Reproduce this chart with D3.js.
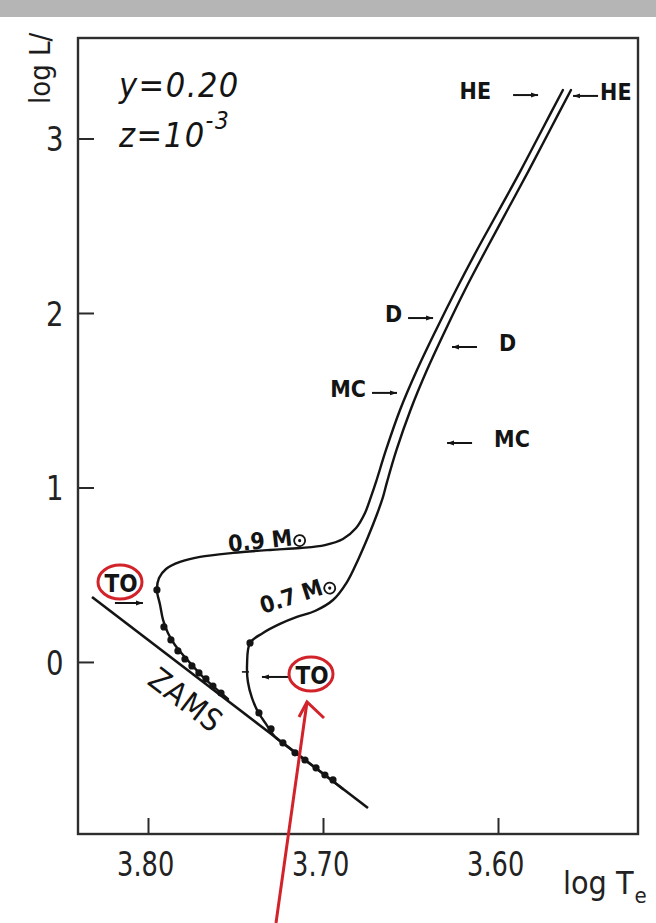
<!DOCTYPE html>
<html>
<head>
<meta charset="utf-8">
<script src="https://cdn.jsdelivr.net/npm/d3@7"></script>
<style>
  html, body { margin: 0; padding: 0; background: #fff; }
  svg { display: block; }
</style>
</head>
<body>
<script>
// ---- HR diagram: evolutionary tracks for 0.7 and 0.9 solar masses (Y=0.20, Z=1e-3) ----

const xDomain = [3.84, 3.52];      // log Te, hot on the left
const yDomain = [-0.986, 3.576];   // log L/Lsun
const xTicks = [3.80, 3.70, 3.60];
const xTickLabels = ["3.80", "3.70", "3.60"];
const yTicks = [0, 1, 2, 3];
const yTickLabels = ["0", "1", "2", "3"];

// zero-age main sequence [logTe, logL]
const zams = [[3.832, 0.372], [3.6743, -0.837]];

// 0.9 Msun track from ZAMS through turn-off, subgiant branch and up the giant branch
const track09 = [
  [3.7543, -0.212], [3.7617, -0.149], [3.7686, -0.086], [3.7749, -0.017],
  [3.7800, 0.040], [3.7846, 0.097], [3.7886, 0.166], [3.7914, 0.241],
  [3.7931, 0.327], [3.7949, 0.413], [3.7937, 0.481], [3.7897, 0.533],
  [3.7817, 0.573], [3.7703, 0.602], [3.7514, 0.625], [3.7303, 0.642],
  [3.7131, 0.653], [3.6989, 0.670], [3.6886, 0.705], [3.6811, 0.768],
  [3.6760, 0.854], [3.6726, 0.946], [3.6697, 1.032], [3.6640, 1.215],
  [3.6560, 1.444], [3.6463, 1.673], [3.6354, 1.903], [3.6240, 2.132],
  [3.6120, 2.361], [3.5994, 2.590], [3.5869, 2.819], [3.5749, 3.049],
  [3.5629, 3.278]
];

// 0.7 Msun track
const track07 = [
  [3.6886, -0.728], [3.6989, -0.648], [3.7103, -0.562], [3.7200, -0.487],
  [3.7274, -0.430], [3.7326, -0.355], [3.7371, -0.287], [3.7406, -0.206],
  [3.7429, -0.115], [3.7434, -0.017], [3.7417, 0.109], [3.7343, 0.166],
  [3.7246, 0.218], [3.7149, 0.258], [3.7046, 0.292], [3.6943, 0.355],
  [3.6863, 0.458], [3.6800, 0.585], [3.6743, 0.716], [3.6691, 0.848],
  [3.6657, 0.946], [3.6634, 1.032], [3.6580, 1.215], [3.6500, 1.444],
  [3.6406, 1.673], [3.6300, 1.903], [3.6189, 2.132], [3.6069, 2.361],
  [3.5946, 2.590], [3.5823, 2.819], [3.5703, 3.049], [3.5583, 3.278]
];

// time markers along the main-sequence part of each track
const dots09 = [
  [3.7949, 0.413], [3.7909, 0.201], [3.7869, 0.126], [3.7829, 0.063],
  [3.7789, 0.017], [3.7749, -0.023], [3.7709, -0.063], [3.7669, -0.097],
  [3.7629, -0.138], [3.7583, -0.178]
];
const dots07 = [
  [3.7417, 0.109], [3.7366, -0.292], [3.7297, -0.384], [3.7229, -0.464],
  [3.7160, -0.521], [3.7103, -0.562], [3.7040, -0.607], [3.6989, -0.648],
  [3.6943, -0.676]
];

// phase markers: label, arrow tip [logTe, logL], arrow direction (+1 points right)
const markerLabels = ["HE", "HE", "D", "D", "MC", "MC"];
const markerTips = [
  [3.5771, 3.249], [3.5571, 3.244], [3.6371, 1.971],
  [3.6263, 1.805], [3.6577, 1.542], [3.6291, 1.255]
];
const markerDirs = [1, -1, 1, -1, 1, -1];

// turn-off arrows
const turnoffTips = [[3.8029, 0.338], [3.7349, -0.086]];
const turnoffDirs = [1, -1];

// ---- layout ----
const W = 656, H = 923;
const plot = { left: 78, right: 638, top: 38, bottom: 834 };
const FONT = "'DejaVu Sans Condensed', 'DejaVu Sans', sans-serif";
const INK = "#141414";
const RED = "#d2232a";

const x = d3.scaleLinear().domain(xDomain).range([plot.left, plot.right]);
const y = d3.scaleLinear().domain(yDomain).range([plot.bottom, plot.top]);

const svg = d3.select("body").append("svg")
  .attr("width", W).attr("height", H)
  .attr("viewBox", `0 0 ${W} ${H}`);

svg.append("rect").attr("width", W).attr("height", H).attr("fill", "#fff");

const defs = svg.append("defs");
defs.append("marker")
  .attr("id", "head").attr("viewBox", "0 0 10 10")
  .attr("refX", 10).attr("refY", 5)
  .attr("markerWidth", 7).attr("markerHeight", 7)
  .attr("markerUnits", "userSpaceOnUse")
  .attr("orient", "auto")
  .append("path").attr("d", "M0,1.5 L10,5 L0,8.5 Z").attr("fill", INK);

// y axis title (rotated)
svg.append("text")
  .attr("transform", "translate(50,104) rotate(-90)")
  .attr("font-family", FONT).attr("font-size", 29)
  .attr("fill", "#1c1c1c")
  .text("log L/");

// axes
const yAxis = d3.axisLeft(y).tickValues(yTicks)
  .tickFormat((d, i) => yTickLabels[i])
  .tickSize(-16).tickPadding(14);
const xAxis = d3.axisBottom(x).tickValues(xTicks)
  .tickFormat((d, i) => xTickLabels[i])
  .tickSize(-16).tickPadding(18);

const gy = svg.append("g").attr("transform", `translate(${plot.left},0)`).call(yAxis);
const gx = svg.append("g").attr("transform", `translate(0,${plot.bottom})`).call(xAxis);
[gx, gy].forEach(g => {
  g.select(".domain").remove();
  g.selectAll(".tick line").attr("stroke", "#2a2a2a").attr("stroke-width", 2);
  g.selectAll(".tick text")
    .attr("font-family", FONT).attr("font-size", 34)
    .attr("fill", "#222");
});
gx.selectAll(".tick text").attr("transform", "scale(0.84,1)").attr("dx", "-0.1em");
gy.selectAll(".tick text").attr("dy", "0.36em").attr("x", -16)
  .attr("transform", "scale(0.9,1)");

// frame
svg.append("rect")
  .attr("x", plot.left).attr("y", plot.top)
  .attr("width", plot.right - plot.left).attr("height", plot.bottom - plot.top)
  .attr("fill", "none").attr("stroke", "#2e2e2e").attr("stroke-width", 2.4);

// x axis title
const xt = svg.append("text")
  .attr("x", 563).attr("y", 894)
  .attr("font-family", FONT).attr("font-size", 32).attr("fill", "#222");
xt.append("tspan").text("log T");
xt.append("tspan").attr("font-size", 22).attr("dy", 9).attr("dx", 1).text("e");

// composition
svg.append("text").attr("x", 119).attr("y", 97)
  .attr("font-family", FONT).attr("font-size", 34).attr("font-style", "italic")
  .attr("fill", INK).attr("letter-spacing", 1.5)
  .text("y=0.20");
const zt = svg.append("text").attr("x", 119).attr("y", 147)
  .attr("font-family", FONT).attr("font-size", 34).attr("font-style", "italic")
  .attr("fill", INK).attr("letter-spacing", 1.5);
zt.append("tspan").text("z=10");
zt.append("tspan").attr("font-size", 24).attr("dy", -18).text("-3");

// curves
const line = d3.line().x(d => x(d[0])).y(d => y(d[1])).curve(d3.curveCatmullRom.alpha(0.5));

svg.append("path").datum(zams).attr("d", line)
  .attr("fill", "none").attr("stroke", INK).attr("stroke-width", 2.6);

[track09, track07].forEach(t => {
  svg.append("path").datum(t).attr("d", line)
    .attr("fill", "none").attr("stroke", INK).attr("stroke-width", 2.4)
    .attr("stroke-linejoin", "round").attr("stroke-linecap", "round");
});

svg.append("g").selectAll("circle").data(dots09.concat(dots07)).join("circle")
  .attr("cx", d => x(d[0])).attr("cy", d => y(d[1])).attr("r", 3.6)
  .attr("fill", INK);

// ZAMS label
svg.append("text")
  .attr("transform", `translate(186,700) rotate(37.4)`)
  .attr("text-anchor", "middle").attr("dominant-baseline", "central")
  .attr("font-family", FONT).attr("font-size", 31).attr("fill", INK)
  .attr("letter-spacing", 1)
  .text("ZAMS");

// mass labels with the solar symbol drawn as a dotted circle
function massLabel(tx, ty, angle, txt) {
  const g = svg.append("g")
    .attr("transform", `translate(${tx},${ty}) rotate(${angle})`);
  const t = g.append("text")
    .attr("font-family", FONT).attr("font-size", 23).attr("font-weight", "bold")
    .attr("fill", INK).text(txt);
  const w = t.node().getComputedTextLength();
  g.append("circle").attr("cx", w + 7).attr("cy", -4).attr("r", 5.5)
    .attr("fill", "none").attr("stroke", INK).attr("stroke-width", 1.8);
  g.append("circle").attr("cx", w + 7).attr("cy", -4).attr("r", 1.6).attr("fill", INK);
}
massLabel(229, 552, -6, "0.9 M");
massLabel(263, 614, -18, "0.7 M");

// phase markers
markerTips.forEach((tip, i) => {
  const tx = x(tip[0]), ty = y(tip[1]);
  const dir = markerDirs[i];
  const len = 25;
  svg.append("line")
    .attr("x1", tx - dir * len).attr("y1", ty).attr("x2", tx).attr("y2", ty)
    .attr("stroke", INK).attr("stroke-width", 2).attr("marker-end", "url(#head)");
  const gap = markerLabels[i] === "HE" ? (dir > 0 ? 22 : 2) : (dir > 0 ? 6 : 22);
  svg.append("text")
    .attr("x", tx - dir * (len + gap)).attr("y", ty - 4)
    .attr("text-anchor", dir > 0 ? "end" : "start")
    .attr("dominant-baseline", "central")
    .attr("font-family", FONT).attr("font-size", 23).attr("font-weight", "bold")
    .attr("fill", INK)
    .text(markerLabels[i]);
});

// turn-off arrows
turnoffTips.forEach((tip, i) => {
  const tx = x(tip[0]), ty = y(tip[1]);
  const dir = turnoffDirs[i];
  svg.append("line")
    .attr("x1", tx - dir * 28).attr("y1", ty).attr("x2", tx).attr("y2", ty)
    .attr("stroke", INK).attr("stroke-width", 2).attr("marker-end", "url(#head)");
});
// small tick across the 0.7 track at the turn-off level
svg.append("line")
  .attr("x1", x(3.7429) - 6).attr("x2", x(3.7429) + 1)
  .attr("y1", y(-0.057)).attr("y2", y(-0.057))
  .attr("stroke", INK).attr("stroke-width", 1.6);

// TO labels circled in red
const toLabels = [[121, 584], [312, 676]];
toLabels.forEach(([cx, cy]) => {
  svg.append("ellipse").attr("cx", cx - 1).attr("cy", cy - 2)
    .attr("rx", 22).attr("ry", 17)
    .attr("fill", "none").attr("stroke", RED).attr("stroke-width", 3);
  svg.append("text").attr("x", cx).attr("y", cy)
    .attr("text-anchor", "middle").attr("dominant-baseline", "central")
    .attr("font-family", FONT).attr("font-size", 24).attr("font-weight", "bold")
    .attr("fill", INK).text("TO");
});

// red pointer arrow
svg.append("path")
  .attr("d", "M276,923 L307,702")
  .attr("stroke", RED).attr("stroke-width", 3).attr("fill", "none");
svg.append("path")
  .attr("d", "M299,717 L307,702 L324,718")
  .attr("stroke", RED).attr("stroke-width", 3).attr("fill", "none")
  .attr("stroke-linejoin", "miter");

// scanner strip across the top
svg.append("rect").attr("x", 0).attr("y", 0).attr("width", W).attr("height", 17)
  .attr("fill", "#b5b5b5");
</script>
</body>
</html>
